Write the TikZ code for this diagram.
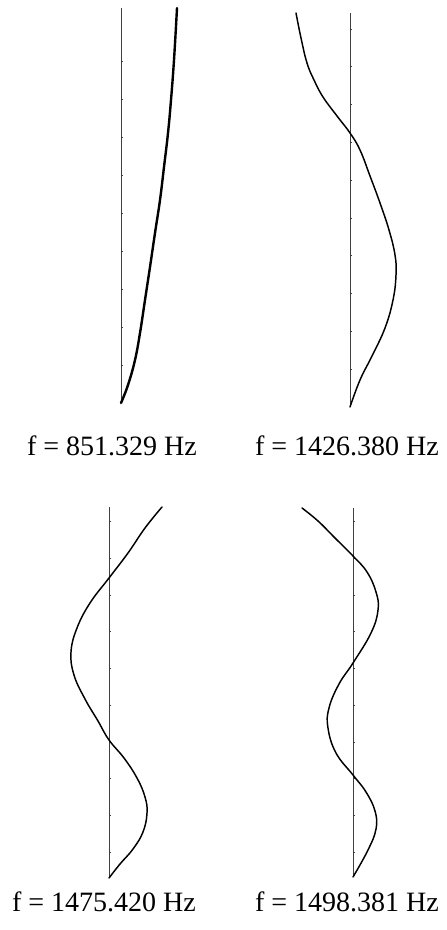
\documentclass[tikz,border=0pt]{standalone}
\usepackage{fontspec}
\setmainfont{Liberation Serif}
\tikzset{
  axisline/.style={black!75,line width=0.7pt},
  modeline/.style={black,line width=1.1pt,line cap=round},
  freqlabel/.style={font=\fontsize{21}{24}\selectfont,inner sep=0pt}
}
\begin{document}
\begin{tikzpicture}[x=0.75pt,y=-0.75pt]
  \useasboundingbox (0,0) rectangle (446,930);
  % first mode
  \draw[axisline] (121,8) -- (121,403);
  \foreach \yy in {1,...,9} {\draw[axisline,line width=0.5pt] (121,403-38*\yy) -- (123,403-38*\yy);}
  \draw[modeline,line width=1.8pt] plot[smooth,tension=0.7] coordinates {
    (121,403) (128,385) (135,360) (140,333) (145,300) (150,267) (155,233) (160,200)
    (164,167) (168,133) (171,100) (174,60) (177,8)};
  \node[freqlabel] (fa) at (112,446) {f = 851.329 Hz};
  % second mode
  \draw[axisline] (350,13) -- (350,407);
  \foreach \yy in {1,...,10} {\draw[axisline,line width=0.5pt] (350,407-37.8*\yy) -- (352,407-37.8*\yy);}
  \draw[modeline] plot[smooth,tension=0.7] coordinates {
    (296,13) (301,38) (307,63) (314,80) (323,97) (337,116) (350,133) (360,150)
    (370,176) (380,203) (389,230) (395,255) (396,275) (393,300) (385,328)
    (372,356) (360,380) (350,407)};
  \node[freqlabel] (fb) at (347,446) {f = 1426.380 Hz};
  % third mode
  \draw[axisline] (109,507) -- (109,878);
  \foreach \yy in {0,...,9} {\draw[axisline,line width=0.5pt] (109,852-36.7*\yy) -- (111,852-36.7*\yy);}
  \draw[modeline] plot[smooth,tension=0.7] coordinates {
    (162,507) (145,528) (128,553) (109,578) (90,603) (77,628) (71,652) (74,675)
    (85,699) (98,721) (109,740) (124,758) (137,778) (145,797) (147,813) (143,832)
    (133,849) (120,864) (109,878)};
  \node[freqlabel] (fc) at (104,902) {f = 1475.420 Hz};
  % fourth mode
  \draw[axisline] (353,508) -- (353,877);
  \foreach \yy in {0,...,9} {\draw[axisline,line width=0.5pt] (353,852-36.7*\yy) -- (355,852-36.7*\yy);}
  \draw[modeline] plot[smooth,tension=0.7] coordinates {
    (302,508) (318,521) (335,538) (353,556) (367,572) (376,592) (378,610) (371,633)
    (353,663) (339,684) (329,708) (328,728) (336,753) (353,775) (366,792) (375,811)
    (376,829) (368,850) (353,877)};
  \node[freqlabel] (fd) at (347,902) {f = 1498.381 Hz};
\end{tikzpicture}
\end{document}
